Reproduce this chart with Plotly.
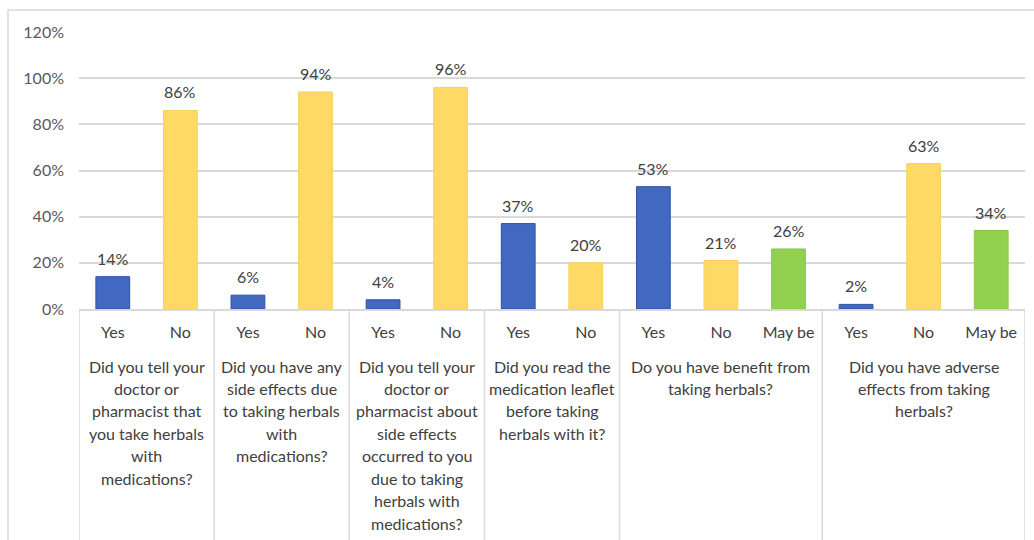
import plotly.graph_objects as go

# Survey questions (one list of text lines per question) and their answers
questions = [
    ["Did you tell your", "doctor or", "pharmacist that", "you take herbals", "with", "medications?"],
    ["Did you have any", "side effects due", "to taking herbals", "with", "medications?"],
    ["Did you tell your", "doctor or", "pharmacist about", "side effects", "occurred to you",
     "due to taking", "herbals with", "medications?"],
    ["Did you read the", "medication leaflet", "before taking", "herbals with it?"],
    ["Do you have benefit from", "taking herbals?"],
    ["Did you have adverse", "effects from taking", "herbals?"],
]
answers = [
    ["Yes", "No"],
    ["Yes", "No"],
    ["Yes", "No"],
    ["Yes", "No"],
    ["Yes", "No", "May be"],
    ["Yes", "No", "May be"],
]
percentages = [
    [14, 86],
    [6, 94],
    [4, 96],
    [37, 20],
    [53, 21, 26],
    [2, 63, 34],
]
y_ticks = [0, 20, 40, 60, 80, 100, 120]

answer_colors = {"Yes": "#4169C2", "No": "#FFD966", "May be": "#92D050"}
answer_lines = {"Yes": "#2F529E", "No": "#F4D060", "May be": "#88C746"}

grid = "#D9D9D9"
text_color = "#404040"
font_family = "Lato"

# Flatten into one bar per answer, with a unique category id per bar
cat_ids, tick_text, vals, fills, edges = [], [], [], [], []
group_bounds = []
idx = 0
for qi, (ans, pcts) in enumerate(zip(answers, percentages)):
    start = idx
    for a, p in zip(ans, pcts):
        cat_ids.append(f"q{qi + 1}-{a}")
        tick_text.append(a)
        vals.append(p)
        fills.append(answer_colors[a])
        edges.append(answer_lines[a])
        idx += 1
    group_bounds.append((start, idx - 1))

fig = go.Figure()
fig.add_trace(go.Bar(
    x=cat_ids,
    y=vals,
    marker=dict(color=fills, line=dict(color=edges, width=1)),
    showlegend=False,
    hovertemplate="%{y}%<extra></extra>",
))

annotations = []
# value labels above each bar
for c, v in zip(cat_ids, vals):
    annotations.append(dict(
        x=c, y=v, xref="x", yref="y", text=f"{v}%", showarrow=False,
        yanchor="bottom", yshift=7,
        font=dict(family=font_family, size=16, color=text_color),
    ))

# question text under each answer group, one annotation per line
plot_h = 540 - 32 - 231
first_line_px = 366 - 309   # distance below the x axis of the first line
line_step_px = 22.45
for (s, e), lines in zip(group_bounds, questions):
    for li, line in enumerate(lines):
        y_px = first_line_px + li * line_step_px
        annotations.append(dict(
            x=(s + e) / 2, y=-y_px / plot_h, xref="x", yref="paper",
            text=line, showarrow=False, xanchor="center", yanchor="middle",
            font=dict(family=font_family, size=16, color=text_color),
        ))

# group dividers running down through the label area
shapes = []
edges_x = [-0.5] + [e + 0.5 for (_, e) in group_bounds]
for xb in edges_x:
    shapes.append(dict(
        type="line", xref="x", yref="paper", x0=xb, x1=xb,
        y0=0, y1=-(545 - 309) / plot_h,
        line=dict(color=grid, width=1.5), layer="below",
    ))

# chart frame
shapes.append(dict(
    type="rect", xref="paper", yref="paper",
    x0=-(79 - 8) / 946, x1=1.02, y0=-0.9, y1=1 + 22 / plot_h,
    line=dict(color=grid, width=1.5), fillcolor="rgba(0,0,0,0)", layer="below",
))

fig.update_layout(
    width=1034,
    height=540,
    margin=dict(l=79, r=9, t=32, b=231),
    paper_bgcolor="white",
    plot_bgcolor="white",
    bargap=0.5,
    font=dict(family=font_family, size=16, color=text_color),
    xaxis=dict(
        type="category",
        range=[-0.5, len(cat_ids) - 0.5],
        tickmode="array",
        tickvals=cat_ids,
        ticktext=tick_text,
        showgrid=False,
        showline=True,
        linecolor=grid,
        linewidth=1.5,
        ticks="",
        ticklabelstandoff=8,
        tickfont=dict(family=font_family, size=16, color=text_color),
    ),
    yaxis=dict(
        range=[0, 120],
        tickmode="array",
        tickvals=y_ticks,
        ticktext=[f"{t}%" for t in y_ticks],
        showgrid=True,
        gridcolor=grid,
        gridwidth=1.5,
        zeroline=False,
        showline=False,
        ticks="",
        ticklabelstandoff=14,
        tickfont=dict(family=font_family, size=16, color="#595959"),
    ),
    annotations=annotations,
    shapes=shapes,
)

fig.write_html("out.html")
